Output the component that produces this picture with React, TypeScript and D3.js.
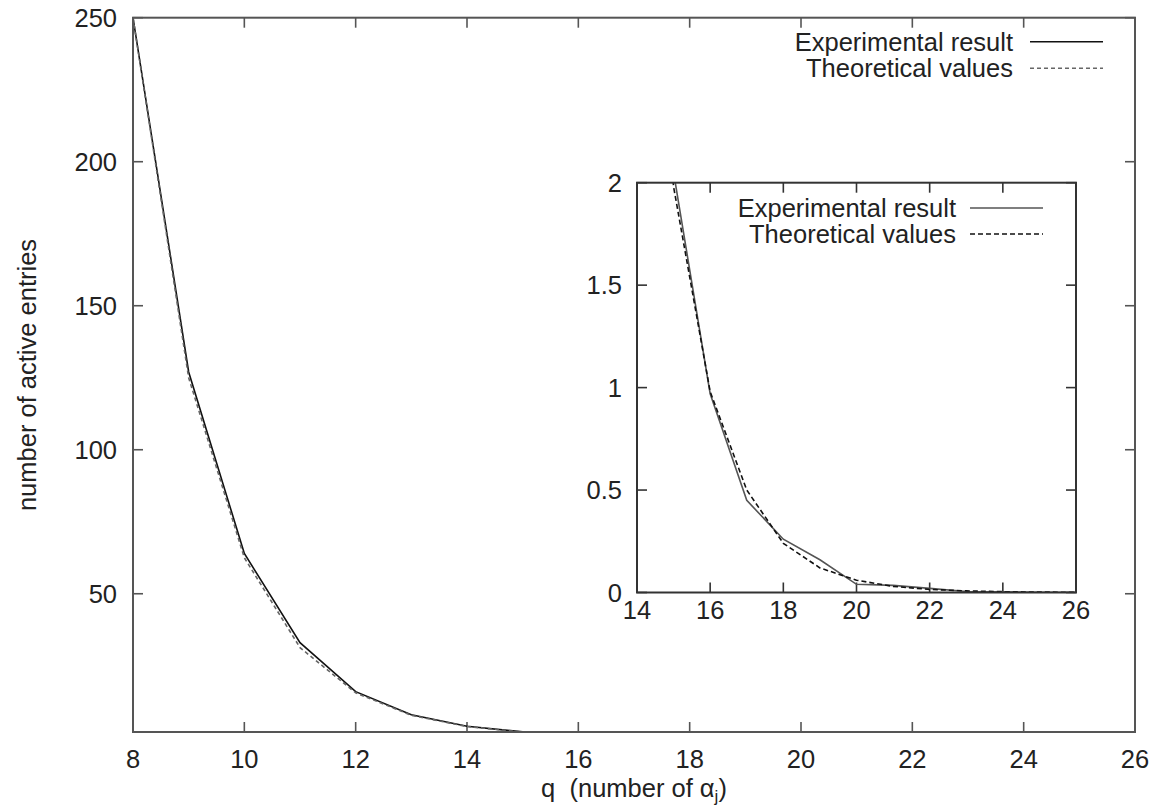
import { useMemo } from "react";
import { scaleLinear, line } from "d3";

// q values and the two series
const qValues = [8, 9, 10, 11, 12, 13, 14, 15, 16, 17, 18, 19, 20, 21, 22, 23, 24, 25, 26];
const experimental = [250, 127, 64, 33, 16, 8, 4, 2.05, 0.97, 0.45, 0.26, 0.16, 0.04, 0.035, 0.02, 0.005, 0.003, 0.001, 0];
const theoretical = [250, 125, 62.5, 31.3, 15.6, 7.8, 3.9, 1.98, 0.98, 0.5, 0.24, 0.12, 0.06, 0.03, 0.015, 0.008, 0.004, 0.002, 0.001];

const mainXTicks = [8, 10, 12, 14, 16, 18, 20, 22, 24, 26];
const mainYTicks = [50, 100, 150, 200, 250];
const insetXTicks = [14, 16, 18, 20, 22, 24, 26];
const insetYTicks = [0, 0.5, 1, 1.5, 2];
const legendLabels = ["Experimental result", "Theoretical values"];

const FONT = "'Liberation Sans', Arial, Helvetica, sans-serif";
const FS = 25.5;

function Panel(props) {
  const { x, y, xTicks, yTicks, id, frame, solidColor, dashColor, dash, legend } = props;
  const [x0, x1] = x.range();
  const [y0, y1] = y.range(); // y0 bottom, y1 top
  const tick = 10;
  const pts = qValues.map((q, i) => ({ q, e: experimental[i], t: theoretical[i] }));
  const lineE = line().x((d) => x(d.q)).y((d) => y(d.e))(pts);
  const lineT = line().x((d) => x(d.q)).y((d) => y(d.t))(pts);
  return (
    <g>
      <defs>
        <clipPath id={id}>
          <rect x={x0} y={y1} width={x1 - x0} height={y0 - y1} />
        </clipPath>
      </defs>
      <rect x={x0} y={y1} width={x1 - x0} height={y0 - y1} fill="white" />
      {xTicks.map((t) => (
        <g key={"x" + t}>
          <line x1={x(t)} x2={x(t)} y1={y0} y2={y0 - tick} stroke={frame} strokeWidth={1.6} />
          <line x1={x(t)} x2={x(t)} y1={y1} y2={y1 + tick} stroke={frame} strokeWidth={1.6} />
          <text x={x(t)} y={y0 + props.xLabelOffset} textAnchor="middle" fontSize={FS} fill="#222">
            {t}
          </text>
        </g>
      ))}
      {yTicks.map((t) => (
        <g key={"y" + t}>
          <line x1={x0} x2={x0 + tick} y1={y(t)} y2={y(t)} stroke={frame} strokeWidth={1.6} />
          <line x1={x1} x2={x1 - tick} y1={y(t)} y2={y(t)} stroke={frame} strokeWidth={1.6} />
          <text x={x0 - props.yLabelGap} y={y(t)} dy="0.36em" textAnchor="end" fontSize={FS} fill="#222">
            {t}
          </text>
        </g>
      ))}
      <g clipPath={`url(#${id})`}>
        <path d={lineE} fill="none" stroke={solidColor} strokeWidth={1.6} />
        <path d={lineT} fill="none" stroke={dashColor} strokeWidth={1.6} strokeDasharray={dash} />
      </g>
      {legendLabels.map((lab, i) => (
        <g key={lab}>
          <text x={legend.textX} y={legend.y + i * legend.gap} dy="0.36em" textAnchor="end" fontSize={FS} fill="#222">
            {lab}
          </text>
          <line
            x1={legend.lineX0}
            x2={legend.lineX1}
            y1={legend.y + i * legend.gap}
            y2={legend.y + i * legend.gap}
            stroke={i == 0 ? solidColor : dashColor}
            strokeWidth={1.6}
            strokeDasharray={i == 0 ? null : dash}
          />
        </g>
      ))}
      <rect x={x0} y={y1} width={x1 - x0} height={y0 - y1} fill="none" stroke={frame} strokeWidth={2} />
    </g>
  );
}

export default function App() {
  const mainX = useMemo(() => scaleLinear().domain([8, 26]).range([133, 1135]), []);
  const mainY = useMemo(() => scaleLinear().domain([2, 250]).range([732, 17.7]), []);
  const insetX = useMemo(() => scaleLinear().domain([14, 26]).range([637, 1076]), []);
  const insetY = useMemo(() => scaleLinear().domain([0, 2]).range([592.5, 182.7]), []);

  return (
    <svg
      width={1159}
      height={812}
      style={{ position: "absolute", left: 0, top: 0, background: "white", fontFamily: FONT }}
    >
      <Panel
        id="clipMain"
        x={mainX}
        y={mainY}
        xTicks={mainXTicks}
        yTicks={mainYTicks}
        frame="#555"
        solidColor="#111"
        dashColor="#666"
        dash="4 3"
        xLabelOffset={36}
        yLabelGap={16}
        legend={{ textX: 1013, lineX0: 1030, lineX1: 1103, y: 41.7, gap: 26.6 }}
      />
      <Panel
        id="clipInset"
        x={insetX}
        y={insetY}
        xTicks={insetXTicks}
        yTicks={insetYTicks}
        frame="#333"
        solidColor="#555"
        dashColor="#111"
        dash="5 3"
        xLabelOffset={26}
        yLabelGap={15}
        legend={{ textX: 956, lineX0: 970, lineX1: 1043, y: 208, gap: 26 }}
      />
      <text
        transform="translate(36,375) rotate(-90)"
        textAnchor="middle"
        fontSize={FS}
        fill="#222"
      >
        number of active entries
      </text>
      <text x={634} y={797} textAnchor="middle" fontSize={FS} fill="#222">
        {"q\u00a0 (number of α"}
        <tspan dy={5} fontSize={17}>j</tspan>
        <tspan dy={-5}>)</tspan>
      </text>
    </svg>
  );
}
